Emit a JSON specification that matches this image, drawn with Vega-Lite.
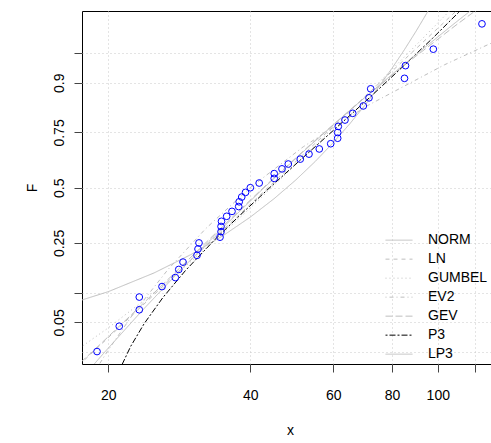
{
  "$schema": "https://vega.github.io/schema/vega-lite/v6.json",
  "autosize": "none",
  "padding": {"left": 82, "top": 11, "right": 0, "bottom": 79},
  "width": 409,
  "height": 353,
  "background": "white",
  "config": {
    "view": {"stroke": "black", "strokeWidth": 1},
    "font": "Liberation Sans",
    "axis": {"labelFont": "Liberation Sans", "titleFont": "Liberation Sans", "labelFontSize": 14, "titleFontSize": 14, "titleFontWeight": "normal", "labelColor": "black", "titleColor": "black", "gridColor": "#C8C8C8", "gridDash": [1, 3], "gridWidth": 1, "tickColor": "#444", "tickSize": 8, "domain": false},
    "legend": {"labelFont": "Liberation Sans", "labelFontSize": 14, "labelColor": "black"}
  },
  "datasets": {
    "curves": [
      {"model": "NORM", "x": 15, "z": -1.496}, {"model": "NORM", "x": 20, "z": -1.269}, {"model": "NORM", "x": 25, "z": -1.041}, {"model": "NORM", "x": 30, "z": -0.814}, {"model": "NORM", "x": 35, "z": -0.587}, {"model": "NORM", "x": 40, "z": -0.36}, {"model": "NORM", "x": 45, "z": -0.132}, {"model": "NORM", "x": 50, "z": 0.095}, {"model": "NORM", "x": 55, "z": 0.322}, {"model": "NORM", "x": 60, "z": 0.55}, {"model": "NORM", "x": 65, "z": 0.777}, {"model": "NORM", "x": 70, "z": 1.004}, {"model": "NORM", "x": 75, "z": 1.231}, {"model": "NORM", "x": 80, "z": 1.459}, {"model": "NORM", "x": 85, "z": 1.686}, {"model": "NORM", "x": 90, "z": 1.913}, {"model": "NORM", "x": 95, "z": 2.14}, {"model": "NORM", "x": 100, "z": 2.368},
      {"model": "LN", "x": 15.03, "z": -2.5}, {"model": "LN", "x": 43.62, "z": 0}, {"model": "LN", "x": 137.9, "z": 2.7},
      {"model": "GUMBEL", "x": 15, "z": -2.197}, {"model": "GUMBEL", "x": 17.59, "z": -1.937}, {"model": "GUMBEL", "x": 20, "z": -1.711}, {"model": "GUMBEL", "x": 25, "z": -1.281}, {"model": "GUMBEL", "x": 30, "z": -0.898}, {"model": "GUMBEL", "x": 35, "z": -0.556}, {"model": "GUMBEL", "x": 40, "z": -0.249}, {"model": "GUMBEL", "x": 50, "z": 0.284}, {"model": "GUMBEL", "x": 60, "z": 0.729}, {"model": "GUMBEL", "x": 70, "z": 1.111}, {"model": "GUMBEL", "x": 80, "z": 1.445}, {"model": "GUMBEL", "x": 90, "z": 1.742}, {"model": "GUMBEL", "x": 100, "z": 2.01}, {"model": "GUMBEL", "x": 110, "z": 2.256}, {"model": "GUMBEL", "x": 120, "z": 2.483},
      {"model": "EV2", "x": 18.46, "z": -2.3}, {"model": "EV2", "x": 19.9, "z": -2.0}, {"model": "EV2", "x": 22.84, "z": -1.5}, {"model": "EV2", "x": 26.76, "z": -1.0}, {"model": "EV2", "x": 32.18, "z": -0.5}, {"model": "EV2", "x": 40.0, "z": 0}, {"model": "EV2", "x": 51.85, "z": 0.5}, {"model": "EV2", "x": 70.85, "z": 1.0}, {"model": "EV2", "x": 103.3, "z": 1.5}, {"model": "EV2", "x": 128.2, "z": 1.75}, {"model": "EV2", "x": 162.4, "z": 2.0},
      {"model": "GEV", "x": 16.23, "z": -2.3}, {"model": "GEV", "x": 18.52, "z": -2.0}, {"model": "GEV", "x": 22.88, "z": -1.5}, {"model": "GEV", "x": 28.13, "z": -1.0}, {"model": "GEV", "x": 34.57, "z": -0.5}, {"model": "GEV", "x": 42.66, "z": 0}, {"model": "GEV", "x": 53.06, "z": 0.5}, {"model": "GEV", "x": 66.72, "z": 1.0}, {"model": "GEV", "x": 85.09, "z": 1.5}, {"model": "GEV", "x": 110.22, "z": 2.0}, {"model": "GEV", "x": 129.72, "z": 2.3}, {"model": "GEV", "x": 145.0, "z": 2.5},
      {"model": "P3", "x": 20.35, "z": -2.476}, {"model": "P3", "x": 21.11, "z": -2.229}, {"model": "P3", "x": 22.32, "z": -1.935}, {"model": "P3", "x": 23.84, "z": -1.658}, {"model": "P3", "x": 26.12, "z": -1.34}, {"model": "P3", "x": 29.15, "z": -1.012}, {"model": "P3", "x": 33.7, "z": -0.63}, {"model": "P3", "x": 38.25, "z": -0.324}, {"model": "P3", "x": 44.32, "z": 0.017}, {"model": "P3", "x": 51.9, "z": 0.373}, {"model": "P3", "x": 61.01, "z": 0.735}, {"model": "P3", "x": 71.63, "z": 1.099}, {"model": "P3", "x": 83.76, "z": 1.462}, {"model": "P3", "x": 97.41, "z": 1.822}, {"model": "P3", "x": 114.1, "z": 2.215},
      {"model": "LP3", "x": 17.73, "z": -2.3}, {"model": "LP3", "x": 19.7, "z": -2.0}, {"model": "LP3", "x": 23.6, "z": -1.5}, {"model": "LP3", "x": 28.53, "z": -1.0}, {"model": "LP3", "x": 34.82, "z": -0.5}, {"model": "LP3", "x": 42.81, "z": 0}, {"model": "LP3", "x": 53.22, "z": 0.5}, {"model": "LP3", "x": 66.78, "z": 1.0}, {"model": "LP3", "x": 84.56, "z": 1.5}, {"model": "LP3", "x": 108.2, "z": 2.0}, {"model": "LP3", "x": 126.0, "z": 2.3}, {"model": "LP3", "x": 139.8, "z": 2.5}
    ],
    "obs": [
      {"x": 18.93, "z": -2.0}, {"x": 21.1, "z": -1.691}, {"x": 23.27, "z": -1.49}, {"x": 23.27, "z": -1.335}, {"x": 26.0, "z": -1.207}, {"x": 27.75, "z": -1.097}, {"x": 28.22, "z": -0.998}, {"x": 28.81, "z": -0.908}, {"x": 30.85, "z": -0.826}, {"x": 31.0, "z": -0.748}, {"x": 31.15, "z": -0.674},
      {"x": 34.52, "z": -0.604}, {"x": 34.69, "z": -0.537}, {"x": 34.69, "z": -0.473}, {"x": 34.77, "z": -0.41}, {"x": 35.66, "z": -0.349}, {"x": 36.6, "z": -0.289}, {"x": 37.82, "z": -0.23}, {"x": 37.91, "z": -0.172}, {"x": 38.38, "z": -0.114}, {"x": 39.1, "z": -0.057}, {"x": 40.03, "z": 0},
      {"x": 41.8, "z": 0.057}, {"x": 44.98, "z": 0.114}, {"x": 44.98, "z": 0.172}, {"x": 46.72, "z": 0.23}, {"x": 48.18, "z": 0.289}, {"x": 51.09, "z": 0.349}, {"x": 53.31, "z": 0.41}, {"x": 56.06, "z": 0.473}, {"x": 59.28, "z": 0.537}, {"x": 61.33, "z": 0.604}, {"x": 61.33, "z": 0.674},
      {"x": 61.51, "z": 0.748}, {"x": 63.56, "z": 0.826}, {"x": 66.01, "z": 0.908}, {"x": 69.51, "z": 0.998}, {"x": 71.47, "z": 1.097}, {"x": 72.07, "z": 1.207}, {"x": 85.0, "z": 1.335}, {"x": 85.42, "z": 1.49}, {"x": 97.85, "z": 1.691}, {"x": 124.1, "z": 2.0}
    ]
  },
  "encoding": {
    "x": {"field": "x", "type": "quantitative", "scale": {"type": "log", "domain": [17.59, 129.7], "nice": false, "zero": false},
      "axis": {"values": [20, 40, 60, 80, 100, 120], "labelExpr": "datum.value == 120 ? '' : datum.label", "labelPadding": 16, "labelBaseline": "top", "title": "x", "titleX": 208, "titleY": 70, "titleBaseline": "alphabetic", "grid": true}},
    "y": {"field": "z", "type": "quantitative", "scale": {"domain": [-2.152, 2.157], "nice": false, "zero": false},
      "axis": {"values": [-2, -1.6449, -1.2816, -0.6745, 0, 0.6745, 1.2816, 1.6449], "labelExpr": "datum.value == 1.2816 ? '0.9' : datum.value == 0.6745 ? '0.75' : datum.value == 0 ? '0.5' : datum.value == -0.6745 ? '0.25' : datum.value == -1.6449 ? '0.05' : ''", "tickOpacity": {"condition": {"test": "datum.value == -2", "value": 0}, "value": 1}, "labelAngle": -90, "labelAlign": "center", "labelBaseline": "alphabetic", "labelPadding": 11, "title": "F", "titleX": -46, "titleY": 176.5, "titleAngle": -90, "titleAlign": "center", "titleBaseline": "alphabetic", "grid": true}}
  },
  "layer": [
    {
      "data": {"name": "curves"},
      "mark": {"type": "line", "clip": true, "strokeWidth": 1},
      "encoding": {
        "color": {"field": "model", "type": "nominal", "scale": {"domain": ["NORM", "LN", "GUMBEL", "EV2", "GEV", "P3", "LP3"], "range": ["#BEBEBE", "#BEBEBE", "#BEBEBE", "#BEBEBE", "#BEBEBE", "#000000", "#BEBEBE"]},
          "legend": {"title": null, "orient": "none", "legendX": 303, "legendY": 220, "symbolType": "stroke", "symbolSize": 729, "symbolStrokeWidth": 1, "labelOffset": 15, "clipHeight": 18.3, "rowPadding": 0, "padding": 0, "labelFontSize": 14}},
        "strokeDash": {"field": "model", "type": "nominal", "scale": {"domain": ["NORM", "LN", "GUMBEL", "EV2", "GEV", "P3", "LP3"], "range": [[1, 0], [4, 4], [1, 3], [1, 3, 4, 3], [7, 3], [2, 2, 6, 2], [1, 0]]},
          "legend": {"title": null, "orient": "none", "legendX": 303, "legendY": 220, "symbolType": "stroke", "symbolSize": 729, "symbolStrokeWidth": 1, "labelOffset": 15, "clipHeight": 18.3, "rowPadding": 0, "padding": 0, "labelFontSize": 14}},
        "order": {"field": "z", "type": "quantitative"}
      }
    },
    {
      "data": {"name": "obs"},
      "mark": {"type": "point", "shape": "circle", "filled": false, "color": "#0000FF", "opacity": 1, "size": 45, "strokeWidth": 1, "clip": true}
    }
  ]
}
